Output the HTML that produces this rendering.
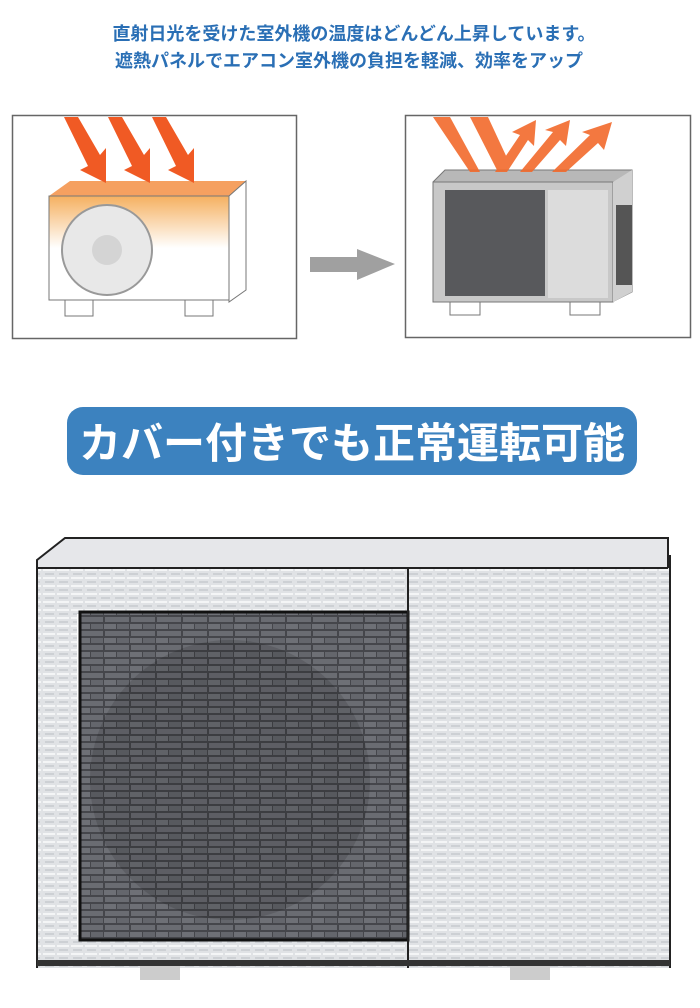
<!DOCTYPE html>
<html><head><meta charset="utf-8"><style>
html,body{margin:0;padding:0;background:#fff;width:700px;height:1008px;overflow:hidden}
svg{display:block}
text{font-family:"Liberation Sans","Noto Sans CJK JP",sans-serif}
</style></head><body>
<svg width="700" height="1008" viewBox="0 0 700 1008" xmlns="http://www.w3.org/2000/svg">
<defs>
<linearGradient id="hot" x1="0" y1="0" x2="0" y2="1"><stop offset="0" stop-color="#f5b060"/><stop offset="0.5" stop-color="#fff"/></linearGradient>
<pattern id="foil" width="14" height="8" patternUnits="userSpaceOnUse"><rect width="14" height="8" fill="#e0e2e5"/><rect x="1" y="1" width="12" height="2" fill="#f4f5f6"/><rect x="3" y="5" width="9" height="2" fill="#cdd0d4"/></pattern>
<pattern id="mesh" width="26" height="14" patternUnits="userSpaceOnUse"><rect width="26" height="14" fill="#45464b"/><rect x="1" y="1" width="24" height="5" fill="#6a6c72"/><rect x="13" y="8" width="12" height="5" fill="#64666c"/><rect x="0" y="8" width="12" height="5" fill="#6e7076"/></pattern>
</defs>
<text x="354" y="40" font-size="18" fill="#2a6fb5" text-anchor="middle" font-weight="bold">直射日光を受けた室外機の温度はどんどん上昇しています。</text>
<text x="349" y="67" font-size="18" fill="#2a6fb5" text-anchor="middle" font-weight="bold">遮熱パネルでエアコン室外機の負担を軽減、効率をアップ</text>

<rect x="12.5" y="115.5" width="284" height="223" fill="#fff" stroke="#666" stroke-width="1.5"/>
<polygon points="49,196 70,181 246,181 229,196" fill="#f5a060"/>
<rect x="49" y="196" width="180" height="104" fill="url(#hot)" stroke="#777"/>
<polygon points="229,196 246,181 246,290 229,302" fill="#fff" stroke="#777"/>
<circle cx="107" cy="250" r="45" fill="#e8e8e8" stroke="#999" stroke-width="2"/>
<circle cx="107" cy="250" r="15" fill="#d4d4d4"/>
<rect x="65" y="300" width="28" height="16" fill="#fff" stroke="#777"/>
<rect x="185" y="300" width="28" height="16" fill="#fff" stroke="#777"/>
<g fill="#f05a24">
<polygon points="64,117 78,117 100,155 106,148 106,183 80,170 88,166"/>
<polygon points="108,117 122,117 144,155 150,148 150,183 124,170 132,166"/>
<polygon points="152,117 166,117 188,155 194,148 194,183 168,170 176,166"/>
</g>

<polygon points="310,257 357,257 357,249 395,264 357,280 357,272 310,272" fill="#a0a0a0"/>

<rect x="405.5" y="115.5" width="285" height="222" fill="#fff" stroke="#666" stroke-width="1.5"/>
<polygon points="433,182 445,170 632,170 632,292 612,302 433,302" fill="#b8b8b8" stroke="#777"/>
<rect x="433" y="182" width="180" height="120" fill="#c8c8c8" stroke="#777"/>
<rect x="445" y="190" width="100" height="106" fill="#58595c"/>
<rect x="548" y="190" width="60" height="108" fill="#dcdcdc"/>
<polygon points="613,182 632,170 632,292 613,302" fill="#d0d0d0"/>
<rect x="616" y="205" width="16" height="80" fill="#555"/>
<rect x="450" y="302" width="30" height="13" fill="#fff" stroke="#777"/>
<rect x="570" y="302" width="30" height="13" fill="#fff" stroke="#777"/>
<g fill="#f26a2c" opacity="0.9">
<polygon points="433,117 450,117 480,172 470,172"/>
<polygon points="470,117 488,117 508,160 498,172"/>
<polygon points="495,172 520,135 512,132 536,120 534,146 528,140 507,172"/>
<polygon points="520,172 553,132 545,130 570,120 566,146 560,140 532,172"/>
<polygon points="552,172 590,135 582,132 612,122 604,150 598,143 566,172"/>
</g>

<rect x="67" y="407" width="570" height="68" rx="16" fill="#3c82bf"/>
<text x="352" y="458" font-size="42" fill="#fff" text-anchor="middle" font-weight="bold">カバー付きでも正常運転可能</text>

<polygon points="37,560 65,538 668,538 668,570 37,570" fill="#e6e7ea" stroke="#222" stroke-width="2"/>
<rect x="37" y="568" width="40" height="400" fill="url(#foil)"/>
<rect x="37" y="568" width="375" height="46" fill="url(#foil)"/>
<rect x="408" y="568" width="262" height="400" fill="url(#foil)"/>
<rect x="37" y="935" width="375" height="33" fill="url(#foil)"/>
<rect x="80" y="612" width="328" height="328" fill="url(#mesh)" stroke="#111" stroke-width="3"/>
<circle cx="230" cy="780" r="140" fill="#000" opacity="0.12"/>
<path d="M37 568 H668 M408 568 V968 M37 568 V968 M670 555 V968" stroke="#222" stroke-width="2" fill="none"/>
<rect x="37" y="960" width="633" height="6" fill="#333"/>
<rect x="140" y="966" width="40" height="14" fill="#ccc"/>
<rect x="510" y="966" width="40" height="14" fill="#ccc"/>
</svg>
</body></html>
